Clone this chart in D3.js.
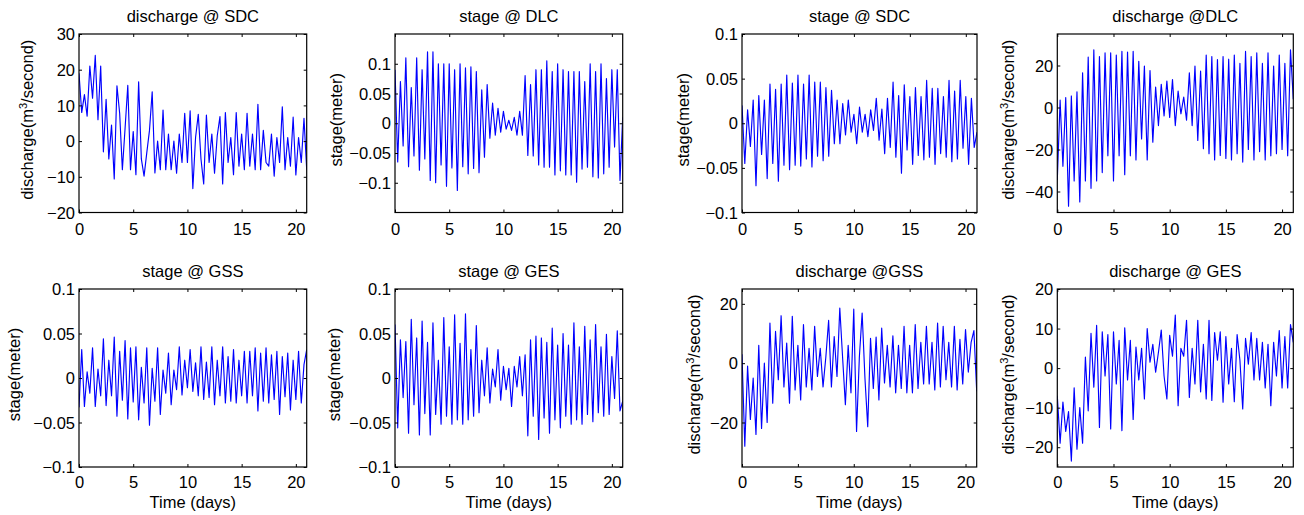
<!DOCTYPE html>
<html lang="en">
<head>
<meta charset="utf-8">
<title>Stage and discharge, 21 days</title>
<script src="https://cdn.jsdelivr.net/npm/d3@7"></script>
<style>
  body { margin: 0; background: #fff; }
  svg text { font-family: "Liberation Sans", Arial, Helvetica, sans-serif; font-size: 16.5px; fill: #000; }
</style>
</head>
<body>
<div id="chart"></div>
<script>
// one value every quarter day
var sampleStep = 0.25;
var xTicks = [0, 5, 10, 15, 20];

var dischargeSDC = [19, 8, 13, 7, 21, 12, 24, 6, 21, -3,
  11.7, -5, 4.5, -10.6, 15.5, 7.8, -8, 3.6, 15.6, -8,
  2.7, -9.4, 16.6, -5, -9.8, -3.3, 3, 13.8, -8.9, 0,
  -8, 8.7, -8, 2, -8, 0, -9, 2, -6, 7.8,
  -6, 8.5, -13.3, 1, 7.5, -5, -12, 7.3, -6, 2,
  -9, 1.5, 6.9, -12, 8, -6, 1, -9.4, 8, -7,
  2, -8, 7.8, -7, 2, -8, 10.3, -8, 3, -6,
  -7, 2, -9.8, 1, -6, 9.6, -8, 1, -7, 6.7,
  -9.5, 1, -6, 6.4, -8];

var stageDLC = [0.09, -0.065, 0.07, -0.038, 0.11, -0.073, 0.06, -0.055, 0.11, -0.079,
  0.09, -0.06, 0.12, -0.096, 0.12, -0.10, 0.10, -0.07, 0.10, -0.106,
  0.10, -0.075, 0.09, -0.113, 0.10, -0.073, 0.093, -0.085, 0.095, -0.076,
  0.087, -0.083, 0.056, -0.057, 0.065, -0.025, 0.034, -0.02, 0.025, -0.015,
  0.02, -0.01, 0.005, -0.012, 0.01, -0.02, 0.02, -0.02, 0.08, -0.054,
  0.065, -0.055, 0.09, -0.07, 0.09, -0.074, 0.105, -0.074, 0.087, -0.087,
  0.10, -0.08, 0.09, -0.087, 0.087, -0.087, 0.087, -0.099, 0.087, -0.077,
  0.07, -0.074, 0.10, -0.09, 0.087, -0.092, 0.10, -0.085, 0.075, -0.074,
  0.09, -0.04, 0.09, -0.096, 0.01];

var stageSDC = [0.02, -0.045, 0.015, -0.026, 0.026, -0.07, 0.031, -0.035, 0.026, -0.062,
  0.044, -0.045, 0.038, -0.065, 0.044, -0.047, 0.054, -0.052, 0.045, -0.047,
  0.054, -0.048, 0.044, -0.04, 0.054, -0.049, 0.046, -0.037, 0.046, -0.042,
  0.04, -0.037, 0.037, -0.023, 0.026, -0.023, 0.022, -0.013, 0.026, -0.01,
  0.01, -0.023, 0.018, -0.01, 0.01, -0.015, 0.015, -0.008, 0.028, -0.019,
  0.016, -0.034, 0.028, -0.027, 0.046, -0.038, 0.031, -0.056, 0.043, -0.03,
  0.03, -0.046, 0.04, -0.036, 0.03, -0.041, 0.048, -0.038, 0.039, -0.046,
  0.039, -0.034, 0.03, -0.038, 0.048, -0.043, 0.036, -0.04, 0.048, -0.028,
  0.03, -0.046, 0.028, -0.027, -0.01];

var dischargeDLC = [-34.5, 3.5, -28, 4.7, -47, 5.5, -35, 7.5, -45, 16.5,
  -35, 24, -38.5, 27.5, -35, 24.3, -31, 26, -23, 26,
  -35, 25, -23, 26.7, -32, 26.4, -23, 26.7, -25, 22,
  -15, 19.7, -25, 17.6, -16.5, 9.7, -8.6, 11, -4, 12.6,
  -4.7, 13.3, -8.6, 7.8, -3, 5, -6, 16.5, -8.6, 19.7,
  -15.7, 17.3, -19.6, 25, -22, 24.3, -25, 22.8, -22.8, 24.3,
  -24.3, 23, -25, 25, -22, 21, -26, 26.7, -20, 24.3,
  -25, 26, -21, 21, -25, 26, -23, 19.7, -22, 25,
  -20, 21, -23, 27.5, 4];

var stageGSS = [-0.033, 0.032, -0.032, 0.007, -0.017, 0.034, -0.032, 0.01, -0.02, 0.044,
  -0.031, 0.02, -0.02, 0.046, -0.043, 0.03, -0.025, 0.042, -0.046, 0.034,
  -0.027, 0.035, -0.047, 0.012, -0.028, 0.034, -0.053, 0.011, -0.026, 0.034,
  -0.041, 0.009, -0.017, 0.028, -0.03, 0.009, -0.013, 0.035, -0.019, 0.02,
  -0.011, 0.032, -0.015, 0.017, -0.02, 0.035, -0.024, 0.018, -0.022, 0.035,
  -0.03, 0.02, -0.02, 0.035, -0.028, 0.024, -0.026, 0.032, -0.028, 0.02,
  -0.02, 0.03, -0.028, 0.03, -0.02, 0.034, -0.037, 0.028, -0.026, 0.034,
  -0.028, 0.026, -0.024, 0.03, -0.041, 0.024, -0.021, 0.028, -0.036, 0.02,
  -0.024, 0.03, -0.028, 0.015, 0.032];

var stageGES = [0.06, -0.056, 0.043, -0.022, 0.041, -0.062, 0.066, -0.03, 0.045, -0.064,
  0.064, -0.04, 0.04, -0.064, 0.062, -0.041, 0.02, -0.052, 0.068, -0.043,
  0.035, -0.052, 0.071, -0.047, 0.039, -0.052, 0.072, -0.047, 0.032, -0.043,
  0.059, -0.039, 0.02, -0.02, 0.034, -0.028, 0.01, -0.01, 0.032, -0.025,
  0.013, -0.013, 0.011, -0.032, 0.013, -0.01, 0.024, -0.02, 0.026, -0.065,
  0.043, -0.043, 0.047, -0.069, 0.045, -0.045, 0.04, -0.062, 0.056, -0.047,
  0.037, -0.056, 0.05, -0.043, 0.037, -0.052, 0.062, -0.047, 0.035, -0.052,
  0.058, -0.041, 0.043, -0.049, 0.06, -0.039, 0.035, -0.043, 0.049, -0.041,
  0.024, -0.023, 0.053, -0.037, -0.026];

var dischargeGSS = [3, -28, -1, -19, -5, -24, 6, -22, 0, -20,
  13.5, -13.5, 10.7, -5.6, 16, -8, 6.8, -13.5, 15.8, -9,
  6, -12.4, 13, -8, 5, -9, 12.4, -4.5, 5, -8,
  2, 14.4, -8, 9, -4.5, 18.6, 2, -14, 6, -10,
  18.2, -23, 2, 16.9, -5, -21.4, 8.4, -8.5, 8.8, -12.4,
  11.8, -6.7, 6, -8, 9.2, -10, 6, -8.5, 12.4, -10,
  6, -10, 13, -8.5, 7, -7, 12.4, -7, 7, -9,
  13.5, -8, 12.4, -5.6, 7, -8, 12.4, -9, 8, -7,
  11.3, -3, 7, 11, -9.5];

var dischargeGES = [-7, -19, -8.6, -16, -11, -23.5, -5, -20.5, -10, -19,
  2.8, -10.8, 8.8, -4.8, 10.8, -15, 9.2, -2, 8.5, -15.4,
  9.2, -4, 7, -15.8, 10.2, -3, 7, -13, 5.3, -3,
  5, -7.8, 10, 1.5, 6, -1, 4, 9.6, -2, -7.8,
  8.3, 3, 13.4, -9.5, 5, 3, 12.1, -7.4, 5, -4,
  12.1, -6, 6, -7.8, 12.1, -8.2, 9, 2, 9.2, -8.6,
  8, -4, 5, -8.5, 8.5, 2, -10.3, 7.5, 1, 9,
  -3, 7.5, -3, 6.5, -5, 6, -9.5, 6.5, -2, 9.5,
  -5, 8, -5, 11, 6.5];

var stageTicks = [-0.1, -0.05, 0, 0.05, 0.1];

// frame: [left, top, right, bottom]; labelX: baseline of the rotated y label
var panels = [
  { title: "discharge @ SDC", kind: "discharge", values: dischargeSDC, yDomain: [-20, 30], yTicks: [-20, -10, 0, 10, 20, 30], frame: [79, 34, 306.7, 212.5], labelX: 33 },
  { title: "stage @ DLC", kind: "stage", values: stageDLC, yDomain: [-0.15, 0.15], yTicks: stageTicks, frame: [395, 34, 622.7, 212.5], labelX: 341.5 },
  { title: "stage @ SDC", kind: "stage", values: stageSDC, yDomain: [-0.1, 0.1], yTicks: stageTicks, frame: [742, 34, 977, 212.5], labelX: 688.5 },
  { title: "discharge @DLC", kind: "discharge", values: dischargeDLC, yDomain: [-50, 35], yTicks: [-40, -20, 0, 20], frame: [1057.3, 34, 1293.3, 212.5], labelX: 1014 },
  { title: "stage @ GSS", kind: "stage", values: stageGSS, yDomain: [-0.1, 0.1], yTicks: stageTicks, frame: [79, 289, 306.7, 467], labelX: 19.5, xlabel: true },
  { title: "stage @ GES", kind: "stage", values: stageGES, yDomain: [-0.1, 0.1], yTicks: stageTicks, frame: [395, 289, 622.7, 467], labelX: 340, xlabel: true },
  { title: "discharge @GSS", kind: "discharge", values: dischargeGSS, yDomain: [-35, 25], yTicks: [-20, 0, 20], frame: [742, 289, 976.7, 467], labelX: 699.5, xlabel: true },
  { title: "discharge @ GES", kind: "discharge", values: dischargeGES, yDomain: [-25, 20], yTicks: [-20, -10, 0, 10, 20], frame: [1057.3, 289, 1293.3, 467], labelX: 1013.5, xlabel: true }
];

var svg = d3.select("#chart").append("svg")
  .attr("width", 1304)
  .attr("height", 515);

svg.append("rect").attr("width", 1304).attr("height", 515).attr("fill", "#fff");

var fmt = function(d) { return String(d).replace("-", "\u2212"); };

panels.forEach(function(p, n) {
  var l = p.frame[0], t = p.frame[1], r = p.frame[2], b = p.frame[3];

  var x = d3.scaleLinear().domain([0, 21]).range([l, r]);
  var y = d3.scaleLinear().domain(p.yDomain).range([b, t]);

  var clipId = "clip" + n;
  svg.append("clipPath").attr("id", clipId)
    .append("rect").attr("x", l).attr("y", t).attr("width", r - l).attr("height", b - t);

  var line = d3.line()
    .x(function(d, i) { return x(i * sampleStep); })
    .y(function(d) { return y(d); });

  svg.append("path")
    .datum(p.values)
    .attr("clip-path", "url(#" + clipId + ")")
    .attr("fill", "none")
    .attr("stroke", "#0000ff")
    .attr("stroke-width", 1.15)
    .attr("stroke-linejoin", "round")
    .attr("d", line);

  // MATLAB-style box with inward ticks on all four sides
  var bottom = svg.append("g").attr("transform", "translate(0," + b + ")")
    .call(d3.axisBottom(x).tickValues(xTicks).tickSizeInner(-3).tickSizeOuter(0).tickPadding(p.xlabel ? 9.5 : 11).tickFormat(fmt));
  var left = svg.append("g").attr("transform", "translate(" + l + ",0)")
    .call(d3.axisLeft(y).tickValues(p.yTicks).tickSizeInner(-3).tickSizeOuter(0).tickPadding(4).tickFormat(fmt));
  var top = svg.append("g").attr("transform", "translate(0," + t + ")")
    .call(d3.axisTop(x).tickValues(xTicks).tickSizeInner(-3).tickSizeOuter(0).tickFormat(""));
  var right = svg.append("g").attr("transform", "translate(" + r + ",0)")
    .call(d3.axisRight(y).tickValues(p.yTicks).tickSizeInner(-3).tickSizeOuter(0).tickFormat(""));

  [bottom, left, top, right].forEach(function(g) {
    g.select(".domain").remove();
    g.selectAll(".tick line").attr("stroke-width", 1);
  });
  left.selectAll(".tick text").attr("dy", "0.34em");

  svg.append("rect")
    .attr("x", l).attr("y", t)
    .attr("width", r - l).attr("height", b - t)
    .attr("fill", "none")
    .attr("stroke", "#000")
    .attr("stroke-width", 1.2);

  svg.append("text")
    .attr("x", (l + r) / 2)
    .attr("y", t - 12.5)
    .attr("text-anchor", "middle")
    .text(p.title);

  var yl = svg.append("text")
    .attr("text-anchor", "middle")
    .attr("transform", "translate(" + p.labelX + "," + ((t + b) / 2 - 3.5) + ") rotate(-90)");
  if (p.kind === "discharge") {
    yl.append("tspan").text("discharge(m");
    yl.append("tspan").attr("dy", -6).style("font-size", "11px").text("3");
    yl.append("tspan").attr("dy", 6).text("/second)");
  } else {
    yl.text("stage(meter)");
  }

  if (p.xlabel) {
    svg.append("text")
      .attr("x", (l + r) / 2)
      .attr("y", 508.3)
      .attr("text-anchor", "middle")
      .text("Time (days)");
  }
});
</script>
</body>
</html>
